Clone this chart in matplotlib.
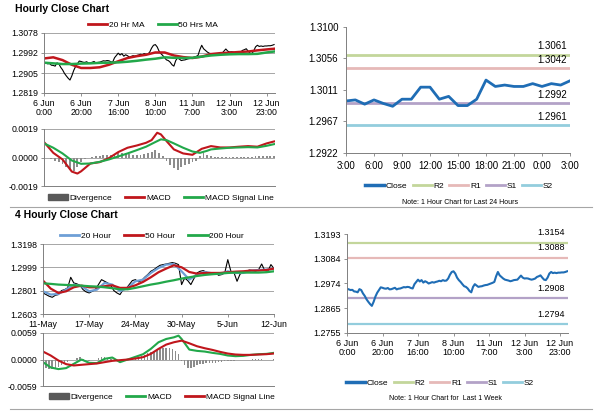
import numpy as np
import matplotlib.pyplot as plt
from matplotlib.patches import Patch
from matplotlib.lines import Line2D

plt.rcParams['font.family'] = ['Liberation Sans', 'DejaVu Sans']

# hourly close, 6 Jun 0:00 onwards (shared by top-left and bottom-right charts)
hourly_close = [1.2951, 1.2948, 1.2945, 1.2946, 1.2939, 1.2938, 1.2935, 1.2949, 1.2945, 1.2930,
                1.2919, 1.2904, 1.2893, 1.2883, 1.2875, 1.2893, 1.2916, 1.2933, 1.2945, 1.2957,
                1.2955, 1.2952, 1.2951, 1.2954, 1.2948, 1.2949, 1.2952, 1.2955, 1.2948, 1.2951,
                1.2952, 1.2955, 1.2958, 1.2957, 1.2959, 1.2958, 1.2954, 1.2952, 1.2971, 1.2981,
                1.2991, 1.2983, 1.2989, 1.2978, 1.2984, 1.2980, 1.2974, 1.2977, 1.2980, 1.2978,
                1.2981, 1.2983, 1.2986, 1.2984, 1.2989, 1.2986, 1.2987, 1.2996, 1.3013, 1.3025,
                1.3028, 1.3018, 1.3000, 1.2989, 1.2981, 1.2971, 1.2962, 1.2959, 1.2952, 1.2941,
                1.2935, 1.2959, 1.2971, 1.2965, 1.2959, 1.2961, 1.2962, 1.2965, 1.2967, 1.2968,
                1.2971, 1.2974, 1.2977, 1.2981, 1.3006, 1.3025, 1.3010, 1.3003, 1.2996, 1.2991,
                1.2989, 1.2987, 1.2984, 1.2986, 1.2989, 1.2990, 1.2991, 1.3000, 1.3009, 1.3000,
                1.2996, 1.2997, 1.2996, 1.2993, 1.2991, 1.2993, 1.2996, 1.3003, 1.3006, 1.3010,
                1.3000, 1.2991, 1.2989, 1.3000, 1.3018, 1.3025, 1.3020, 1.3022, 1.3020, 1.3022,
                1.3022, 1.3023, 1.3023, 1.3025, 1.3028]
hourly_labels = ['6 Jun\n0:00', '6 Jun\n20:00', '7 Jun\n16:00', '8 Jun\n10:00',
                 '11 Jun\n7:00', '12 Jun\n3:00', '12 Jun\n23:00']

ma_idx = [0, 5, 10, 15, 20, 25, 30, 35, 40, 45, 50, 55, 60, 65, 70, 75, 80, 85, 90, 95,
          100, 105, 110, 115, 120, 124]
ma20_hr = [1.2968, 1.2973, 1.2961, 1.2941, 1.2927, 1.2927, 1.2930, 1.2941, 1.2956, 1.2970,
           1.2978, 1.2984, 1.2994, 1.2994, 1.2981, 1.2974, 1.2970, 1.2976, 1.2987, 1.2991,
           1.2993, 1.2996, 1.2998, 1.3003, 1.3007, 1.3010]
ma50_hr = [1.2950, 1.2947, 1.2944, 1.2944, 1.2946, 1.2947, 1.2949, 1.2950, 1.2951, 1.2954,
           1.2958, 1.2963, 1.2967, 1.2973, 1.2971, 1.2970, 1.2971, 1.2976, 1.2981, 1.2984,
           1.2986, 1.2987, 1.2987, 1.2988, 1.2994, 1.2998]

macd_hr_idx = [0, 5, 10, 15, 18, 20, 25, 30, 35, 40, 45, 50, 55, 58, 61, 63, 66, 70, 75, 80,
               85, 90, 95, 100, 105, 110, 115, 120, 124]
macd_hr = [0.00103, 0.00031, -0.00013, -0.00094, -0.00107, -0.00092, -0.00040, -0.00031,
           -0.00004, 0.00036, 0.00065, 0.00080, 0.00098, 0.00116, 0.00165, 0.00154, 0.00110,
           0.00054, 0.00027, 0.00018, 0.00058, 0.00076, 0.00067, 0.00067, 0.00072, 0.00076,
           0.00072, 0.00094, 0.00107]
signal_hr_idx = [0, 5, 10, 15, 20, 25, 30, 35, 40, 45, 50, 55, 60, 63, 66, 70, 75, 80, 84, 88,
                 90, 95, 100, 105, 110, 115, 120, 124]
signal_hr = [0.00094, 0.00065, 0.00027, -0.00020, -0.00042, -0.00040, -0.00029, -0.00013,
             0.00007, 0.00027, 0.00049, 0.00072, 0.00103, 0.00121, 0.00116, 0.00094, 0.00065,
             0.00040, 0.00031, 0.00045, 0.00054, 0.00060, 0.00065, 0.00067, 0.00069, 0.00067,
             0.00078, 0.00089]
# divergence, every 2nd hour
div_hr = [0.0002, 0.0, -0.0001, -0.0002, -0.0003, -0.0004, -0.0006, -0.0008, -0.0009, -0.0006,
          -0.0003, -0.0001, 0.0, 0.00005, 0.0001, 0.0001, 0.00015, 0.0002, 0.0002, 0.00025,
          0.0003, 0.0003, 0.0003, 0.00025, 0.0002, 0.0002, 0.0002, 0.00025, 0.0003, 0.0004,
          0.0005, 0.0003, 0.0001, -0.0002, -0.0005, -0.0007, -0.0008, -0.0006, -0.0005, -0.0004,
          -0.0003, -0.0002, 0.0001, 0.0003, 0.0002, 0.0001, 0.00005, 0.00003, 0.00002, 0.00002,
          0.00002, 0.00003, 0.00002, 0.00002, 0.00003, 0.00002, 0.00005, 0.0001, 0.0001, 0.0001,
          0.00012, 0.0001, 0.0001]

# last 24 hours
day_labels = ['3:00', '6:00', '9:00', '12:00', '15:00', '18:00', '21:00', '0:00', '3:00']
day_close = [1.29955, 1.2997, 1.2991, 1.2997, 1.2992, 1.2988, 1.2998, 1.2998, 1.3015, 1.3015,
             1.2998, 1.3002, 1.2989, 1.2989, 1.2998, 1.3025, 1.3016, 1.3018, 1.3016, 1.3016,
             1.3020, 1.3016, 1.3020, 1.3018, 1.3024]
day_levels = {'R2': 1.3061, 'R1': 1.3042, 'S1': 1.2992, 'S2': 1.2961}
week_levels = {'R2': 1.3154, 'R1': 1.3088, 'S1': 1.2908, 'S2': 1.2794}

# 4 hourly, 11 May onwards (every 2nd bar)
h4_labels = ['11-May', '17-May', '24-May', '30-May', '5-Jun', '12-Jun']
close_4h = [1.2782, 1.2768, 1.2754, 1.2745, 1.2762, 1.2768, 1.2802, 1.2810, 1.2825, 1.2915,
            1.2867, 1.2859, 1.2847, 1.2810, 1.2791, 1.2782, 1.2796, 1.2810, 1.2853, 1.2895,
            1.2881, 1.2867, 1.2847, 1.2802, 1.2782, 1.2768, 1.2810, 1.2819, 1.2853, 1.2887,
            1.2895, 1.2876, 1.2887, 1.2915, 1.2938, 1.2966, 1.2980, 1.3000, 1.3017, 1.3023,
            1.3028, 1.3034, 1.3040, 1.3034, 1.3023, 1.2853, 1.2909, 1.2887, 1.2853, 1.2904,
            1.2952, 1.2966, 1.2972, 1.2960, 1.2949, 1.2943, 1.2955, 1.2932, 1.2938, 1.2952,
            1.3065, 1.2966, 1.2955, 1.2881, 1.2943, 1.2955, 1.2966, 1.2977, 1.2972, 1.2966,
            1.2980, 1.3028, 1.2972, 1.2966, 1.3023, 1.2989]
ma_4h_idx = list(range(0, 151, 5))
ma20_4h = [1.2796, 1.2768, 1.2774, 1.2810, 1.2853, 1.2839, 1.2796, 1.2810, 1.2867, 1.2853,
           1.2796, 1.2825, 1.2881, 1.2895, 1.2952, 1.2994, 1.3023, 1.3028, 1.2966, 1.2895,
           1.2938, 1.2960, 1.2949, 1.2943, 1.2966, 1.2952, 1.2952, 1.2972, 1.2977, 1.2980,
           1.2989]
ma50_4h = [1.2887, 1.2819, 1.2782, 1.2796, 1.2830, 1.2844, 1.2830, 1.2830, 1.2839, 1.2847,
           1.2825, 1.2825, 1.2847, 1.2876, 1.2915, 1.2958, 1.2989, 1.3017, 1.3000, 1.2960,
           1.2946, 1.2952, 1.2952, 1.2952, 1.2958, 1.2963, 1.2966, 1.2972, 1.2972, 1.2977,
           1.2989]
ma200_4h = [1.2864, 1.2859, 1.2853, 1.2850, 1.2847, 1.2844, 1.2839, 1.2836, 1.2830, 1.2822,
            1.2813, 1.2813, 1.2825, 1.2839, 1.2853, 1.2864, 1.2878, 1.2890, 1.2904, 1.2915,
            1.2926, 1.2935, 1.2941, 1.2946, 1.2952, 1.2955, 1.2955, 1.2955, 1.2955, 1.2958,
            1.2966]
macd_4h_idx = list(range(0, 86, 5)) + [88] + list(range(90, 151, 5))
macd_4h = [-0.00059, -0.00177, -0.00214, -0.00192, -0.00096, 0.0, -0.00074, -0.00081, 0.00015,
           0.00044, -0.00059, 0.0, 0.00059, 0.00118, 0.00236, 0.00384, 0.00457, 0.00494,
           0.00531, 0.00457, 0.00221, 0.00192, 0.00177, 0.00148, 0.00125, 0.00089, 0.00074,
           0.00081, 0.00103, 0.00118, 0.00125, 0.00148]
signal_4h = [0.00177, 0.00089, -0.00022, -0.00103, -0.00133, -0.00118, -0.00103, -0.00089,
             -0.00059, -0.00030, -0.00015, 0.0, 0.00022, 0.00052, 0.00125, 0.00236, 0.00332,
             0.00384, 0.00420, 0.00361, 0.00295, 0.00251, 0.00214, 0.00170, 0.00133, 0.00111,
             0.00103, 0.00103, 0.00111, 0.00118, 0.00133]
div_4h = [-0.0015, -0.0020, -0.0022, -0.0021, -0.0019, -0.0016, -0.0012, -0.0008, -0.0005, -0.0002,
          0.0, 0.0004, 0.0006, 0.0002, -0.0002, -0.0003, -0.0002, 0.0, 0.0003, 0.0005,
          0.0006, 0.0004, 0.0002, -0.0002, -0.0004, -0.0003, -0.0001, 0.0001, 0.0002, 0.0003,
          0.0004, 0.0006, 0.0008, 0.0011, 0.0014, 0.0017, 0.0020, 0.0022, 0.0024, 0.0025,
          0.0026, 0.0025, 0.0024, 0.0020, 0.0012, -0.0003, -0.0012, -0.0018, -0.0020, -0.0016,
          -0.0012, -0.0010, -0.0009, -0.0008, -0.0008, -0.0007, -0.0007, -0.0006, -0.0005, -0.0004,
          -0.0003, -0.0004, -0.0003, -0.0002, -0.0002, -0.0001, -0.0001, 0.0, 0.0001, 0.0001,
          0.0001, 0.0001, 0.0, 0.0, 0.0, 0.0001]

RED = '#c0161c'
GREEN = '#22a84a'
LBLUE = '#6e9fd6'
CLOSE = '#1f6db5'
GRID = '#a6a6a6'
DIVC = '#8c8c8c'
LEVC = {'R2': '#c3d69b', 'R1': '#e6b9b8', 'S1': '#b3a2c7', 'S2': '#93cddd'}
TS = 6.3


def px_axes(fig, x0, y0, x1, y1):
    W, H = 600.0, 413.0
    return fig.add_axes([x0 / W, 1 - y1 / H, (x1 - x0) / W, (y1 - y0) / H])


def style(ax, gridlines=True):
    for s in ['top', 'right']:
        ax.spines[s].set_visible(False)
    for s in ['left', 'bottom']:
        ax.spines[s].set_color('#808080')
        ax.spines[s].set_linewidth(0.7)
    ax.tick_params(labelsize=TS, length=2.5, width=0.6, color='#808080', pad=1.5)
    if gridlines:
        ax.yaxis.grid(True, color=GRID, lw=0.7)
        ax.set_axisbelow(True)


def legend(fig, handles, labels, x, y, spacing=1.6):
    fig.legend(handles, labels, loc='center', bbox_to_anchor=(x / 600, 1 - y / 413),
               ncol=len(handles), frameon=False, fontsize=6, handlelength=2.3,
               handletextpad=0.2, columnspacing=spacing, borderpad=0, borderaxespad=0)


def line_h(c, lw=2):
    return Line2D([0], [0], color=c, lw=lw)


fig = plt.figure(figsize=(6, 4.13), dpi=100)

# ---------------- hourly close chart
fig.text(15 / 600, 1 - 9 / 413, 'Hourly Close Chart', fontsize=7.5, fontweight='bold', va='center')
ax = px_axes(fig, 44, 33, 275, 93)
n = len(hourly_close)
ax.plot(range(n), hourly_close, color='black', lw=0.8)
ax.plot(ma_idx, ma20_hr, color=RED, lw=1.8)
ax.plot(ma_idx, ma50_hr, color=GREEN, lw=1.8)
ax.set_ylim(1.2819, 1.3078)
ax.set_yticks([1.2819, 1.2905, 1.2992, 1.3078])
ax.set_yticklabels(['1.2819', '1.2905', '1.2992', '1.3078'])
ax.set_xlim(0, n - 0.5)
ax.set_xticks(range(0, 121, 20))
ax.set_xticklabels(hourly_labels, linespacing=1.0)
style(ax)
legend(fig, [line_h(RED), line_h(GREEN)], ['20 Hr MA', '50 Hrs MA'], 153, 25)

ax = px_axes(fig, 44, 129, 275, 186)
ax.bar(np.arange(0, n, 2), div_hr, width=1.0, color=DIVC, lw=0)
ax.plot(macd_hr_idx, macd_hr, color=RED, lw=1.5)
ax.plot(signal_hr_idx, signal_hr, color=GREEN, lw=1.5)
ax.set_ylim(-0.0019, 0.0019)
ax.set_yticks([-0.0019, 0.0, 0.0019])
ax.set_yticklabels(['-0.0019', '0.0000', '0.0019'])
ax.set_xlim(0, n - 0.5)
ax.set_xticks([])
style(ax)
legend(fig, [Patch(color='#595959'), line_h(RED), line_h(GREEN)],
       ['Divergence', 'MACD', 'MACD Signal Line'], 161, 198)

# ---------------- last 24 hours
ax = px_axes(fig, 346, 27, 570, 153)
for k, v in day_levels.items():
    ax.axhline(v, color=LEVC[k], lw=2)
    ax.annotate('%.4f' % v, (24, v), xytext=(-2, 2.5), textcoords='offset points',
                ha='right', va='bottom', fontsize=7)
ax.plot(range(len(day_close)), day_close, color=CLOSE, lw=2)
ax.set_ylim(1.2922, 1.3100)
ax.set_yticks([1.2922, 1.2967, 1.3011, 1.3056, 1.3100])
ax.set_yticklabels(['1.2922', '1.2967', '1.3011', '1.3056', '1.3100'])
ax.set_xlim(0, 24)
ax.set_xticks(range(0, 25, 3))
ax.set_xticklabels(day_labels)
style(ax, gridlines=False)
ax.tick_params(labelsize=7, pad=3)
legend(fig, [line_h(CLOSE, 2.5)] + [line_h(LEVC[k]) for k in ['R2', 'R1', 'S1', 'S2']],
       ['Close', 'R2', 'R1', 'S1', 'S2'], 459, 186, spacing=0.6)
fig.text(460 / 600, 1 - 202 / 413, 'Note: 1 Hour Chart for Last 24 Hours', fontsize=5,
         ha='center', va='center')

fig.add_artist(Line2D([10 / 600, 592 / 600], [1 - 207 / 413] * 2, color=GRID, lw=0.8))
fig.add_artist(Line2D([10 / 600, 592 / 600], [1 - 409 / 413] * 2, color=GRID, lw=0.8))

# ---------------- 4 hourly close chart
fig.text(15 / 600, 1 - 215 / 413, '4 Hourly Close Chart', fontsize=7.5, fontweight='bold', va='center')
ax = px_axes(fig, 43, 244, 274, 314)
ax.plot(np.arange(0, 151, 2), close_4h, color='black', lw=0.8)
ax.plot(ma_4h_idx, ma20_4h, color=LBLUE, lw=1.6)
ax.plot(ma_4h_idx, ma50_4h, color=RED, lw=1.6)
ax.plot(ma_4h_idx, ma200_4h, color=GREEN, lw=1.6)
ax.set_ylim(1.2603, 1.3198)
ax.set_yticks([1.2603, 1.2801, 1.2999, 1.3198])
ax.set_yticklabels(['1.2603', '1.2801', '1.2999', '1.3198'])
ax.set_xlim(0, 150)
ax.set_xticks(range(0, 151, 30))
ax.set_xticklabels(h4_labels)
style(ax)
legend(fig, [line_h(LBLUE), line_h(RED), line_h(GREEN)], ['20 Hour', '50 Hour', '200 Hour'], 152, 236)

ax = px_axes(fig, 43, 333, 274, 386)
ax.bar(np.arange(0, 151, 2), div_4h, width=1.0, color=DIVC, lw=0)
ax.plot(macd_4h_idx, macd_4h, color=GREEN, lw=1.5)
ax.plot(ma_4h_idx, signal_4h, color=RED, lw=1.5)
ax.set_ylim(-0.0059, 0.0059)
ax.set_yticks([-0.0059, 0.0, 0.0059])
ax.set_yticklabels(['-0.0059', '0.0000', '0.0059'])
ax.set_xlim(0, 150)
ax.set_xticks([])
style(ax)
legend(fig, [Patch(color='#595959'), line_h(GREEN), line_h(RED)],
       ['Divergence', 'MACD', 'MACD Signal Line'], 162, 397)

# ---------------- last week, hourly
ax = px_axes(fig, 347, 234, 568, 333)
for k, v in week_levels.items():
    ax.axhline(v, color=LEVC[k], lw=1.6)
    ax.annotate('%.4f' % v, (n - 1, v), xytext=(-2, 4), textcoords='offset points',
                ha='right', va='bottom', fontsize=6.5)
ax.plot(range(n), hourly_close, color=CLOSE, lw=1.5)
ax.set_ylim(1.2755, 1.3193)
ax.set_yticks([1.2755, 1.2865, 1.2974, 1.3084, 1.3193])
ax.set_yticklabels(['1.2755', '1.2865', '1.2974', '1.3084', '1.3193'])
ax.set_xlim(0, n - 0.5)
ax.set_xticks(range(0, 121, 20))
ax.set_xticklabels(hourly_labels, linespacing=1.0)
style(ax, gridlines=False)
ax.tick_params(labelsize=6.5, pad=2)
legend(fig, [line_h(CLOSE, 2.5)] + [line_h(LEVC[k]) for k in ['R2', 'R1', 'S1', 'S2']],
       ['Close', 'R2', 'R1', 'S1', 'S2'], 440, 383, spacing=0.6)
fig.text(445 / 600, 1 - 398 / 413, 'Note: 1 Hour Chart for  Last 1 Week', fontsize=5,
         ha='center', va='center')

fig.savefig('out.png', dpi=100)
